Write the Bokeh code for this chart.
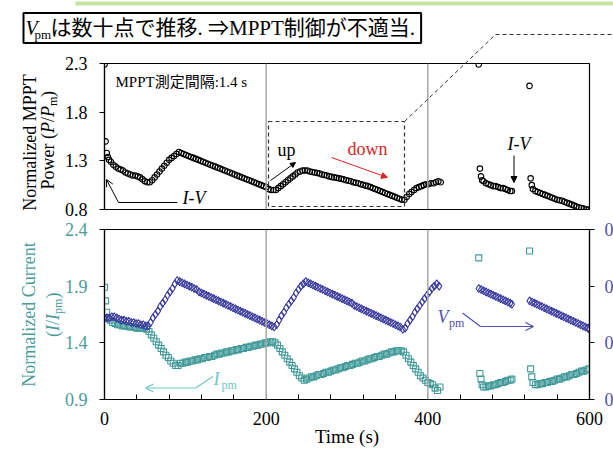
from bokeh.plotting import figure
from bokeh.layouts import column
from bokeh.models import (Range1d, LinearAxis, FixedTicker, Span, Label, Arrow,
                          OpenHead, NormalHead, BoxAnnotation, CustomJSTickFormatter)
from bokeh.embed import file_html
from bokeh.resources import INLINE

# ---------------- data ----------------
# normalized MPPT power P/Pm (top panel), sampled every ~3 s
p_t1 = [0, 1.4, 2.8, 4.2, 5.6] + list(range(8, 417, 3))
p_v1 = [2.29, 1.50, 1.38, 1.34, 1.31,
        1.29, 1.26, 1.24, 1.22, 1.21, 1.20, 1.18, 1.17, 1.16, 1.15,
        1.15, 1.14, 1.13, 1.11, 1.09, 1.08, 1.08, 1.10, 1.13, 1.16,
        1.19, 1.22, 1.25, 1.28, 1.31, 1.33, 1.35, 1.37, 1.39, 1.38,
        1.37, 1.36, 1.35, 1.34, 1.33, 1.32, 1.31, 1.30, 1.29, 1.28,
        1.27, 1.26, 1.25, 1.24, 1.23, 1.22, 1.21, 1.20, 1.19, 1.18,
        1.17, 1.16, 1.15, 1.14, 1.13, 1.12, 1.11, 1.10, 1.09, 1.08,
        1.07, 1.06, 1.05, 1.04, 1.03, 1.01, 1.00, 1.00, 1.00, 1.02,
        1.04, 1.06, 1.08, 1.10, 1.12, 1.14, 1.16, 1.18, 1.19, 1.20,
        1.20, 1.20, 1.19, 1.185, 1.18, 1.175, 1.17, 1.16, 1.155, 1.15,
        1.14, 1.135, 1.13, 1.125, 1.12, 1.115, 1.11, 1.10, 1.095, 1.09,
        1.08, 1.075, 1.07, 1.06, 1.055, 1.045, 1.04, 1.03, 1.02, 1.01,
        1.00, 0.99, 0.98, 0.97, 0.96, 0.95, 0.94, 0.93, 0.92, 0.91,
        0.90, 0.90, 0.93, 0.96, 0.98, 1.00, 1.02, 1.03, 1.04, 1.05,
        1.06, 1.06, 1.07, 1.07, 1.08, 1.09, 1.08]
p_t2 = [463, 464.4, 465.8, 467.2, 469, 472, 475, 478, 481, 484, 487, 490, 493, 496, 499, 502, 504]
p_v2 = [2.29, 1.22, 1.14, 1.10, 1.09, 1.07, 1.06, 1.05, 1.04, 1.04, 1.03, 1.02, 1.02, 1.01, 1.00, 0.99, 0.99]
p_t3 = [525.8, 527.2, 528.6, 530] + list(range(533, 600, 3))
p_v3 = [2.07, 1.12, 1.05, 1.01,
        0.99, 0.98, 0.97, 0.96, 0.95, 0.94, 0.93, 0.92, 0.91, 0.90,
        0.895, 0.89, 0.88, 0.87, 0.86, 0.85, 0.84, 0.83, 0.82, 0.815,
        0.81, 0.80, 0.80]

# normalized current I/Ipm (bottom panel, left axis)
i_t1 = [0, 1.4, 2.8, 4.2] + list(range(7, 416, 3))
i_v1 = [1.89, 1.77, 1.67, 1.62,
        1.60, 1.58, 1.57, 1.56, 1.56, 1.55, 1.55, 1.55, 1.54, 1.54,
        1.54, 1.53, 1.53, 1.53, 1.53, 1.52, 1.50, 1.47, 1.44, 1.41,
        1.38, 1.35, 1.32, 1.29, 1.27, 1.24, 1.22, 1.20, 1.20, 1.22,
        1.22, 1.23, 1.23, 1.24, 1.24, 1.25, 1.25, 1.26, 1.26, 1.27,
        1.27, 1.28, 1.28, 1.29, 1.30, 1.30, 1.31, 1.31, 1.32, 1.32,
        1.33, 1.33, 1.34, 1.34, 1.35, 1.35, 1.36, 1.36, 1.37, 1.37,
        1.38, 1.38, 1.39, 1.39, 1.40, 1.40, 1.41, 1.41, 1.40, 1.38,
        1.35, 1.32, 1.29, 1.26, 1.23, 1.20, 1.17, 1.14, 1.11, 1.09,
        1.07, 1.08, 1.09, 1.10, 1.10, 1.11, 1.12, 1.12, 1.13, 1.14,
        1.14, 1.15, 1.16, 1.16, 1.17, 1.18, 1.18, 1.19, 1.20, 1.20,
        1.21, 1.22, 1.22, 1.23, 1.24, 1.24, 1.25, 1.26, 1.26, 1.27,
        1.28, 1.28, 1.29, 1.30, 1.30, 1.31, 1.32, 1.32, 1.33, 1.33,
        1.33, 1.32, 1.29, 1.26, 1.23, 1.20, 1.17, 1.14, 1.11, 1.09,
        1.07, 1.05, 1.04, 1.03, 1.00, 0.98, 1.01]
i_t2 = [463, 464.4, 465.8, 467.2, 469, 472, 475, 478, 481, 484, 487, 490, 493, 496, 499, 502, 504]
i_v2 = [2.15, 1.13, 1.08, 1.03, 1.01, 1.01, 1.02, 1.02, 1.03, 1.03, 1.04, 1.05, 1.05, 1.06, 1.07, 1.07, 1.08]
i_t3 = [525.8, 527.2, 528.6, 530] + list(range(533, 600, 3))
i_v3 = [2.21, 1.17, 1.10, 1.05,
        1.03, 1.03, 1.04, 1.04, 1.05, 1.05, 1.06, 1.06, 1.07, 1.08,
        1.08, 1.09, 1.10, 1.10, 1.11, 1.12, 1.12, 1.13, 1.14, 1.15,
        1.15, 1.16, 1.17]

# Vpm (bottom panel, right axis)
v_t1 = list(range(0, 415, 3))
v_v1 = [.772, .772, .772, .773, .773, .772, .771, .770, .770, .769,
        .769, .768, .768, .767, .767, .766, .766, .765, .765, .768,
        .772, .775, .778, .782, .785, .788, .792, .795, .798, .802,
        .805, .804, .803, .802, .801, .800, .799, .798, .797, .795,
        .794, .793, .792, .791, .790, .789, .788, .787, .786, .785,
        .784, .783, .782, .781, .780, .779, .778, .777, .776, .775,
        .774, .773, .772, .771, .770, .769, .768, .767, .766, .765,
        .764, .766, .770, .774, .777, .781, .784, .787, .790, .794,
        .797, .800, .802, .804, .803, .802, .801, .800, .799, .798,
        .797, .796, .795, .794, .793, .792, .791, .790, .789, .788,
        .787, .786, .785, .783, .782, .781, .780, .779, .778, .777,
        .776, .775, .774, .773, .772, .771, .770, .769, .768, .767,
        .766, .765, .764, .762, .763, .767, .770, .773, .777, .780,
        .783, .786, .789, .792, .795, .798, .800, .802, .800]
v_t2 = list(range(463, 503, 3)) + [504]
v_v2 = [.798, .797, .796, .795, .794, .793, .792, .791, .790, .789, .788, .787, .786, .785, .784]
v_t3 = list(range(526, 599, 3)) + [600]
v_v3 = [.787, .786, .785, .784, .783, .782, .781, .780, .779, .778, .777, .776, .775,
        .774, .773, .772, .771, .770, .769, .768, .767, .766, .765, .764, .763, .762]

top_ticks = [0.8, 1.3, 1.8, 2.3]
cur_ticks = [0.9, 1.4, 1.9, 2.4]
volt_ticks = [0.70, 0.75, 0.80, 0.85]
volt_tick_labels = ["0.70", "0.75", "0.80", "0.85"]
time_ticks = [0, 200, 400, 600]
time_minor = [40, 80, 120, 160, 240, 280, 320, 360, 440, 480, 520, 560]

# ---------------- styles ----------------
SERIF = "Liberation Serif"
MIX = "Liberation Serif, Noto Sans CJK JP"
TEAL = "#3f9898"
TEAL_TXT = "#4a9c9c"
TEAL_LIGHT = "#6cc6c6"
PURPLE = "#3a3a9c"
PURPLE_TXT = "#4f4fae"
RED = "#d42424"
W, H = 613, 451
H_TOP = 219
H_BOT = H - H_TOP

# frame edges in page pixels
TL, TR, TT, TB = 104, 591, 63, 209
BL, BR, BT, BB = 104, 589, 229, 399


def style_common(p):
    p.min_border = 0
    p.background_fill_color = "white"
    p.border_fill_color = "white"
    p.outline_line_color = "black"
    p.outline_line_width = 1.2
    p.xgrid.visible = False
    p.ygrid.visible = False


def style_axis(ax, color, tick_in, tick_out):
    ax.major_label_text_font = SERIF
    ax.major_label_text_font_size = "18px"
    ax.major_label_text_color = color
    ax.major_tick_in = tick_in
    ax.major_tick_out = tick_out
    ax.minor_tick_in = tick_in if tick_in else 0
    ax.minor_tick_out = 0
    ax.major_label_standoff = 12
    ax.axis_line_color = "black"
    ax.axis_line_width = 1.2
    ax.major_tick_line_color = "black"
    ax.minor_tick_line_color = "black"


# ---------------- top panel ----------------
top = figure(width=W, height=H_TOP, output_backend="svg", toolbar_location=None,
             x_range=Range1d(0, 600), y_range=Range1d(0.8, 2.3), x_axis_location=None)
style_common(top)
top.min_border_left = TL
top.min_border_right = W - TR
top.min_border_top = TT
top.min_border_bottom = H_TOP - TB

ya = top.yaxis[0]
ya.ticker = FixedTicker(ticks=top_ticks)
style_axis(ya, "black", 0, 5)

for loc in (200, 400):
    top.add_layout(Span(location=loc, dimension="height", line_color="#a8a8a8", line_width=1.5))

for t, v in ((p_t1, p_v1), (p_t2, p_v2), (p_t3, p_v3)):
    top.scatter(t, v, marker="circle", size=5.5, fill_alpha=0.0,
                line_color="black", line_width=1.1)

# ---------------- bottom panel ----------------
bot = figure(width=W, height=H_BOT, output_backend="svg", toolbar_location=None,
             x_range=Range1d(0, 600), y_range=Range1d(0.9, 2.4))
style_common(bot)
bot.min_border_left = BL
bot.min_border_right = W - BR
bot.min_border_top = BT - H_TOP
bot.min_border_bottom = H - BB
bot.extra_y_ranges = {"v": Range1d(0.70, 0.85)}

xa = bot.xaxis[0]
xa.ticker = FixedTicker(ticks=time_ticks, minor_ticks=time_minor)
style_axis(xa, "black", 5, 0)

yb = bot.yaxis[0]
yb.ticker = FixedTicker(ticks=cur_ticks)
style_axis(yb, TEAL_TXT, 0, 5)

ra = LinearAxis(y_range_name="v", ticker=FixedTicker(ticks=volt_ticks),
                formatter=CustomJSTickFormatter(code="return ''"))
style_axis(ra, PURPLE_TXT, 0, 5)
ra.major_label_standoff = 0
bot.add_layout(ra, "right")

for loc in (200, 400):
    bot.add_layout(Span(location=loc, dimension="height", line_color="#a8a8a8", line_width=1.5))

for t, v in ((i_t1, i_v1), (i_t2, i_v2), (i_t3, i_v3)):
    bot.scatter(t, v, marker="square", size=6, fill_alpha=0.0, line_color=TEAL, line_width=1.1)
for t, v in ((v_t1, v_v1), (v_t2, v_v2), (v_t3, v_v3)):
    bot.scatter(t, v, marker="diamond", size=8, fill_alpha=0.0, line_color=PURPLE,
                line_width=1.1, y_range_name="v")

# ---------------- transparent overlay for texts and callouts (page pixels) ----------------
ov = figure(width=W, height=H, output_backend="svg", toolbar_location=None,
            x_range=Range1d(0, W), y_range=Range1d(H, 0),
            x_axis_location=None, y_axis_location=None)
ov.min_border = 0
ov.outline_line_color = None
ov.background_fill_alpha = 0
ov.border_fill_alpha = 0
ov.xgrid.visible = False
ov.ygrid.visible = False
ov.styles = {"position": "absolute", "left": "0px", "top": "0px"}


def lab(x, y, text, size="18px", color="black", style="normal", font=SERIF,
        align="left", baseline="middle", angle=0, **kw):
    ov.add_layout(Label(x=x, y=y, text=text, text_font=font, text_font_size=size,
                        text_color=color, text_font_style=style, text_align=align,
                        text_baseline=baseline, angle=angle, angle_units="deg", **kw))


def seg(x0, y0, x1, y1, color="black", width=1.0, dash="solid", head=None):
    ov.add_layout(Arrow(x_start=x0, y_start=y0, x_end=x1, y_end=y1, end=head,
                        line_color=color, line_width=width, line_dash=dash))


# header decorations
seg(75, 3, 613, 3, color="#c6e3a2", width=4)
seg(404, 121, 495, 34, color="#333333", dash="4 3")
seg(495, 34, 613, 34, color="#333333", dash="4 3")
ov.add_layout(BoxAnnotation(left=268, right=404, top=121, bottom=206, fill_alpha=0,
                            line_color="#333333", line_alpha=1.0, line_dash="4 3",
                            line_width=1.2))

# title box (box starts at x=23, text after a 27 px left padding)
lab(23, 27.5, "は数十点で推移. ⇒MPPT制御が不適当.", size="21px", font=MIX,
    background_fill_color="white", border_line_color="black", border_line_width=2,
    padding=dict(left=27, right=6, top=3, bottom=3))
lab(25, 27, "V", size="20px", style="italic")
lab(34, 34, "pm", size="13px")

lab(115, 81.5, "MPPT測定間隔:1.4 s", size="15px", font=MIX)

# I-V callouts
lab(182, 197, "I-V", style="italic")
seg(177, 202, 118, 202)
seg(118, 202, 106, 179, head=OpenHead(size=7, line_width=1, line_color="black"))
lab(507, 143, "I-V", style="italic")
seg(513.5, 155, 513.5, 182, head=NormalHead(size=6, line_color="black", fill_color="black"))

# up / down
lab(277, 149, "up")
seg(270, 180, 295, 162, head=NormalHead(size=5, line_color="black", fill_color="black"))
lab(347, 148.5, "down", color=RED)
seg(331, 157, 387, 177, color=RED, head=NormalHead(size=6, line_color=RED, fill_color=RED))

# top y title (rotated, two lines)
lab(29, 142, "Normalized MPPT", align="center", angle=90)
for txt, sty, sz, py, px in [("Power (", "normal", "18px", 189.0, 47.5),
                             ("P", "italic", "18px", 132.5, 47.5),
                             ("/", "normal", "18px", 121.5, 47.5),
                             ("P", "italic", "18px", 116.5, 47.5),
                             ("m", "normal", "12px", 105.5, 52.5),
                             (")", "normal", "18px", 96.5, 47.5)]:
    lab(px, py, txt, size=sz, style=sty, angle=90)

# bottom y title (rotated, teal)
lab(28.5, 314, "Normalized Current", color=TEAL_TXT, align="center", angle=90)
for txt, sty, sz, py, px in [("(", "normal", "18px", 336.5, 52.5),
                             ("I", "italic", "18px", 330.5, 52.5),
                             ("/", "normal", "18px", 324.5, 52.5),
                             ("I", "italic", "18px", 319.5, 52.5),
                             ("pm", "normal", "12px", 313.5, 57.5),
                             (")", "normal", "18px", 298.0, 52.5)]:
    lab(px, py, txt, size=sz, style=sty, color=TEAL_TXT, angle=90)

# right axis tick labels (cut by the page edge as in the original)
for val, txt in zip(volt_ticks, volt_tick_labels):
    py = BB - (val - 0.70) / 0.15 * (BB - BT)
    lab(604, py, txt, color=PURPLE_TXT)

# Ipm callout
seg(212.5, 376, 195, 387.5, color=TEAL_LIGHT, width=1.2)
seg(195, 387.5, 145, 387.5, color=TEAL_LIGHT, width=1.2,
    head=OpenHead(size=8, line_width=1.2, line_color=TEAL_LIGHT))
lab(213, 378, "I", color=TEAL_LIGHT, style="italic")
lab(221, 384, "pm", size="12px", color=TEAL_LIGHT)

# Vpm callout
seg(462, 312.5, 480, 326, color=PURPLE_TXT, width=1.2)
seg(480, 326, 533, 326, color=PURPLE_TXT, width=1.2,
    head=OpenHead(size=8, line_width=1.2, line_color=PURPLE_TXT))
lab(437, 316, "V", color=PURPLE_TXT, style="italic")
lab(448.5, 322.5, "pm", size="12px", color=PURPLE_TXT)

# x title
lab(346.5, 436, "Time (s)", size="19px", align="center")

layout = column(top, bot, spacing=0)
open("out.html", "w").write(file_html([layout, ov], INLINE))
